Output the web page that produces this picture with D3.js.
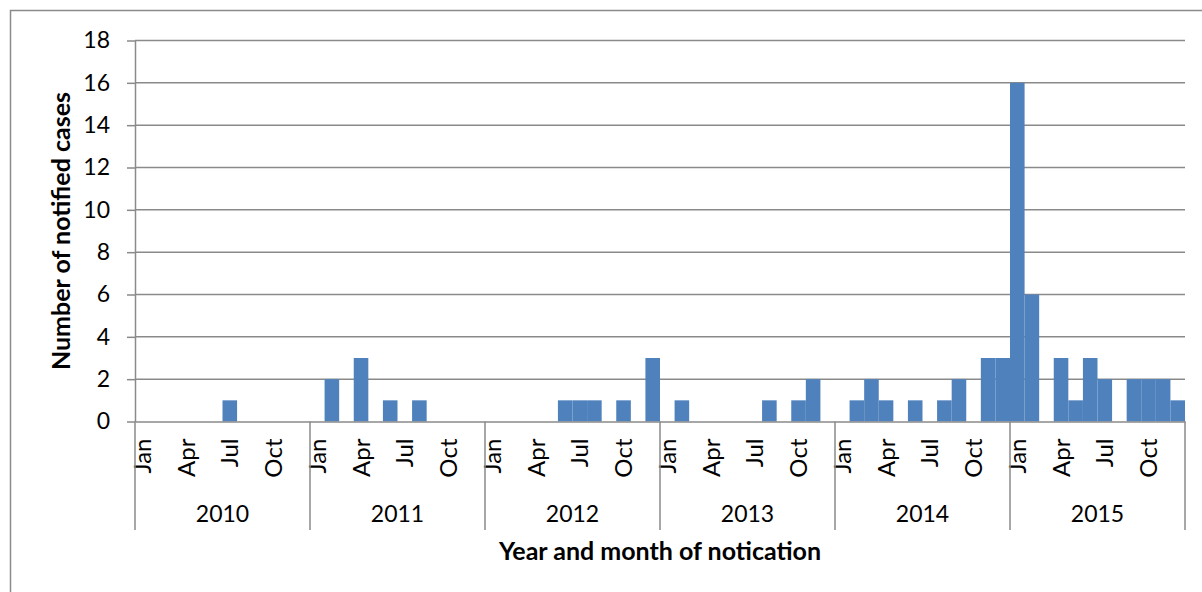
<!DOCTYPE html>
<html>
<head>
<meta charset="utf-8">
<script src="https://cdn.jsdelivr.net/npm/d3@7"></script>
<style>
  html, body { margin: 0; padding: 0; background: #fff; }
  svg { display: block; }
  text { font-family: Lato, "Open Sans", sans-serif; fill: #000; }
</style>
</head>
<body>
<svg id="chart" width="1202" height="592"></svg>
<script>
// Notified cases per month, Jan 2010 – Dec 2015
const years = [2010, 2011, 2012, 2013, 2014, 2015];
const monthNames = ["Jan","Feb","Mar","Apr","May","Jun","Jul","Aug","Sep","Oct","Nov","Dec"];
const cases2010 = [0,0,0,0,0,0,1,0,0,0,0,0];
const cases2011 = [0,2,0,3,0,1,0,1,0,0,0,0];
const cases2012 = [0,0,0,0,0,1,1,1,0,1,0,3];
const cases2013 = [0,1,0,0,0,0,0,1,0,1,2,0];
const cases2014 = [0,1,2,1,0,1,0,1,2,0,3,3];
const cases2015 = [16,6,0,3,1,3,2,0,2,2,2,1];
const yTicks = [0,2,4,6,8,10,12,14,16,18];
const monthTickLabels = ["Jan","Apr","Jul","Oct"];
const yTitle = "Number of notified cases";
const xTitle = "Year and month of notication";

const series = [cases2010, cases2011, cases2012, cases2013, cases2014, cases2015];
const data = [];
series.forEach((vals, yi) => vals.forEach((v, mi) => {
  data.push({ key: yi * 12 + mi, year: years[yi], month: monthNames[mi], value: v });
}));

const svg = d3.select("#chart");
const plotLeft = 135, plotRight = 1185, plotTop = 40.5, plotBottom = 421.5;
const gridColor = "#8a8a8a";

// outer chart-area border
svg.append("rect")
  .attr("x", 10.5).attr("y", 10.5)
  .attr("width", 1400).attr("height", 800)
  .attr("fill", "none").attr("stroke", gridColor).attr("stroke-width", 1.5);

const x = d3.scaleBand().domain(data.map(d => d.key)).range([plotLeft, plotRight]).padding(0);
const y = d3.scaleLinear().domain([0, 18]).range([plotBottom, plotTop]);

// horizontal gridlines
svg.append("g").selectAll("line").data(yTicks.filter(t => t > 0)).join("line")
  .attr("x1", plotLeft).attr("x2", plotRight)
  .attr("y1", d => y(d)).attr("y2", d => y(d))
  .attr("stroke", gridColor).attr("stroke-width", 1.5);

// bars
svg.append("g").selectAll("rect").data(data.filter(d => d.value > 0)).join("rect")
  .attr("x", d => x(d.key))
  .attr("y", d => y(d.value))
  .attr("width", x.bandwidth())
  .attr("height", d => y(0) - y(d.value))
  .attr("fill", "#4f81bd");

// value axis
const yAxis = svg.append("g")
  .attr("transform", `translate(${plotLeft},0)`)
  .call(d3.axisLeft(y).tickValues(yTicks).tickSizeInner(8).tickSizeOuter(0).tickPadding(17));
yAxis.select(".domain").attr("stroke", gridColor).attr("stroke-width", 1.5);
yAxis.selectAll(".tick line").attr("stroke", gridColor).attr("stroke-width", 1.5);
yAxis.selectAll(".tick text")
  .style("font-family", "Lato, sans-serif").attr("font-size", 23).attr("fill", "#000");

// category axis: months
const monthTicks = data.filter(d => monthTickLabels.includes(d.month)).map(d => d.key);
const xAxis = svg.append("g")
  .attr("transform", `translate(0,${plotBottom})`)
  .call(d3.axisBottom(x).tickValues(monthTicks).tickSize(0)
        .tickFormat(k => monthNames[k % 12]));
xAxis.select(".domain").attr("stroke", gridColor).attr("stroke-width", 1.5);
xAxis.selectAll(".tick text")
  .style("font-family", "Lato, sans-serif").attr("font-size", 24).attr("fill", "#000")
  .attr("transform", "rotate(-90)")
  .attr("text-anchor", "end")
  .attr("x", -17).attr("y", 0).attr("dy", "0.36em");

// year separators and year labels
const yearBounds = years.map((yr, i) => x(i * 12)).concat([plotRight]);
svg.append("g").selectAll("line").data(yearBounds).join("line")
  .attr("x1", d => d).attr("x2", d => d)
  .attr("y1", plotBottom).attr("y2", 530)
  .attr("stroke", gridColor).attr("stroke-width", 1.5);

svg.append("g").selectAll("text").data(years).join("text")
  .attr("x", (d, i) => (yearBounds[i] + yearBounds[i + 1]) / 2)
  .attr("y", 522)
  .attr("text-anchor", "middle")
  .attr("font-size", 23)
  .text(d => d);

// axis titles
svg.append("text")
  .attr("transform", `translate(70,${(plotTop + plotBottom) / 2}) rotate(-90)`)
  .attr("text-anchor", "middle")
  .attr("font-size", 25).attr("font-weight", "bold")
  .text(yTitle);

svg.append("text")
  .attr("x", (plotLeft + plotRight) / 2).attr("y", 560)
  .attr("text-anchor", "middle")
  .attr("font-size", 25).attr("font-weight", "bold")
  .text(xTitle);
</script>
</body>
</html>
